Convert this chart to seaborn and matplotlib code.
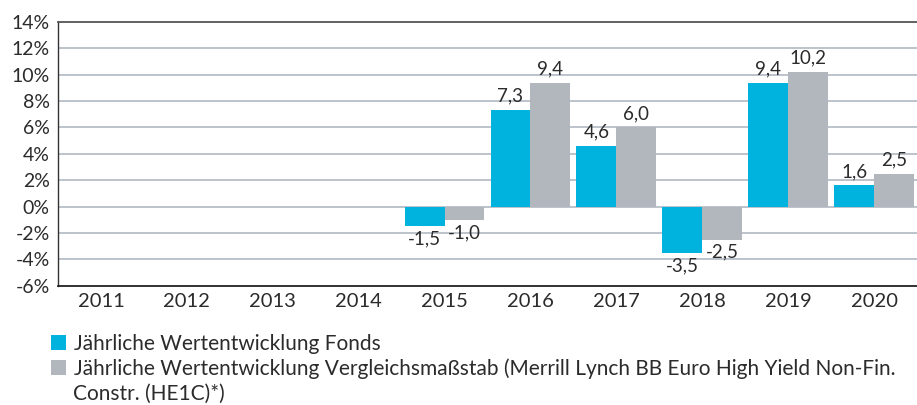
import numpy as np
import pandas as pd
import matplotlib
matplotlib.use("Agg")
import matplotlib.pyplot as plt
import seaborn as sns

# Annual performance (%) per year; no data before 2015
years = ["2011", "2012", "2013", "2014", "2015", "2016", "2017", "2018", "2019", "2020"]
fonds = [np.nan, np.nan, np.nan, np.nan, -1.5, 7.3, 4.6, -3.5, 9.4, 1.6]
benchmark = [np.nan, np.nan, np.nan, np.nan, -1.0, 9.4, 6.0, -2.5, 10.2, 2.5]

series_names = [
    "Jährliche Wertentwicklung Fonds",
    "Jährliche Wertentwicklung Vergleichsmaßstab (Merrill Lynch BB Euro High Yield Non-Fin.",
]
legend_continuation = "Constr. (HE1C)*)"

y_ticks = [-6, -4, -2, 0, 2, 4, 6, 8, 10, 12, 14]
y_tick_labels = ["-6%", "-4%", "-2%", "0%", "2%", "4%", "6%", "8%", "10%", "12%", "14%"]

colors = ["#00B3DE", "#B1B7BD"]

df = pd.DataFrame({
    "Jahr": years * 2,
    "Wert": fonds + benchmark,
    "Serie": [series_names[0]] * len(years) + [series_names[1]] * len(years),
})

sns.set_theme(style="white")
plt.rcParams["font.family"] = ["Lato", "DejaVu Sans"]
text_color = "#2b2b2b"

fig = plt.figure(figsize=(9.17, 4.05), dpi=100)
ax = fig.add_axes([58 / 917, 1 - 285.7 / 405, 1 - 58 / 917, (285.7 - 22) / 405])

sns.barplot(
    data=df, x="Jahr", y="Wert", hue="Serie", order=years, hue_order=series_names,
    palette=colors, width=0.93, saturation=1, linewidth=0, ax=ax, errorbar=None,
    legend=True,
)

ax.set_ylim(-6, 14)
ax.set_xlim(-0.5, 9.5)
ax.set_yticks(y_ticks)
ax.set_yticklabels(y_tick_labels)
ax.set_xlabel("")
ax.set_ylabel("")
ax.tick_params(axis="both", length=0, labelcolor=text_color)
ax.tick_params(axis="y", pad=6, labelsize=14)
ax.tick_params(axis="x", pad=5, labelsize=14.5)

# horizontal grid, drawn behind the bars
ax.set_axisbelow(True)
for yv in y_ticks[1:-1]:
    ax.axhline(yv, color="#BCC3CA", lw=1.4, zorder=0)

ax.spines["right"].set_visible(False)
ax.spines["top"].set_color("#555555")
ax.spines["top"].set_linewidth(1.3)
ax.spines["left"].set_color("#333333")
ax.spines["left"].set_linewidth(1.0)
ax.spines["bottom"].set_color("#222222")
ax.spines["bottom"].set_linewidth(1.3)

# value labels
for container in ax.containers:
    for bar in container:
        h = bar.get_height()
        if np.isnan(h):
            continue
        x = bar.get_x() + bar.get_width() / 2
        label = f"{h:.1f}".replace(".", ",")
        if h >= 0:
            ax.annotate(label, (x, h), xytext=(0, 4), textcoords="offset points",
                        ha="center", va="bottom", fontsize=13.5, color=text_color)
        else:
            ax.annotate(label, (x, h), xytext=(0, -3), textcoords="offset points",
                        ha="center", va="top", fontsize=13.5, color=text_color)

# legend below the plot
handles, labels = ax.get_legend_handles_labels()
ax.legend_.remove()
fig.legend(
    handles, labels, loc="upper left", bbox_to_anchor=(51 / 917, 1 - 334 / 405),
    frameon=False, fontsize=15, borderpad=0, borderaxespad=0,
    handlelength=0.72, handleheight=0.72, handletextpad=0.4, labelspacing=0.22,
    labelcolor=text_color,
)
fig.text(73 / 917, 1 - 394 / 405, legend_continuation, ha="left", va="center",
         fontsize=15, color=text_color)

fig.savefig("out.png", dpi=100)
